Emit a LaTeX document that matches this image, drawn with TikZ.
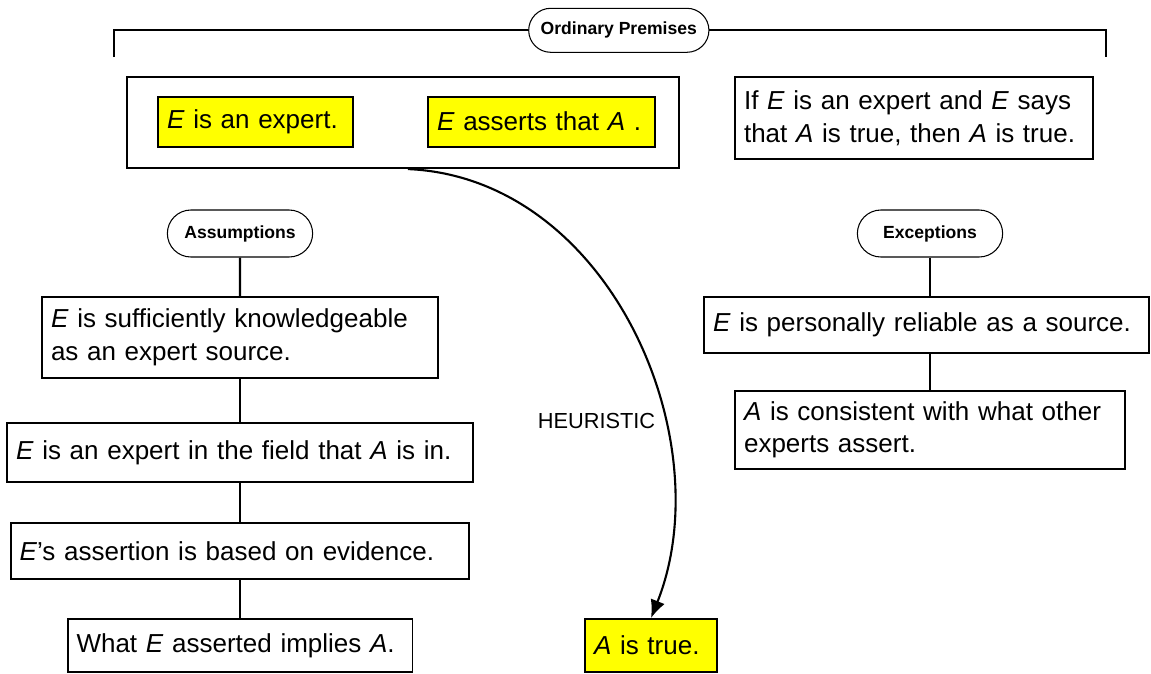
\documentclass[tikz,border=0pt]{standalone}
\usepackage{fontspec}
\setmainfont{Liberation Sans}
\usepackage{xcolor}
\definecolor{premyellow}{rgb}{1, 1, 0}
\usetikzlibrary{arrows.meta, shapes.misc}

\tikzset{
	plainbox/.style = {draw, line width = 1.1pt, inner xsep = 0.18cm, inner ysep = 0pt, align = left, font = \fontsize{14.8}{18.5}\selectfont},
	yellowbox/.style = {plainbox, fill = premyellow},
	tag/.style = {draw, rounded rectangle, line width = 0.6pt, minimum width = 3.14cm, minimum height = 0.94cm, font = \fontsize{10}{12}\selectfont\bfseries},
	link/.style = {line width = 1.2pt}
}

\begin{document}
\begin{tikzpicture}[x = 0.02cm, y = -0.02cm]
			\useasboundingbox (0,0) rectangle (1151,673);
			
			% top row
			\node[tag, minimum width = 3.84cm, minimum height = 0.88cm] (ordinary) at (618.8,30.3) {Ordinary Premises};
			\node[plainbox, text width = 10.68cm, minimum height = 1.82cm] (prem) at (403,122.6) {};
			\node[yellowbox, text width = 3.54cm, minimum height = 1.0cm] (p1) at (255.5,121.7) {\textit{E} is an expert.};
			\node[yellowbox, text width = 4.18cm, minimum height = 1.0cm] (p2) at (541.5,121.7) {\textit{E} asserts that \textit{A} .};
			\node[plainbox, text width = 6.8cm, minimum height = 1.64cm] (rule) at (914,118) {If \textit{E} is an expert and \textit{E} says\\that \textit{A} is true, then \textit{A} is true.};
			
			\coordinate (bl) at (114,57);
			\coordinate (br) at (1106,57);
			\draw[link] (bl) |- (ordinary.west);
			\draw[link] (ordinary.east) -| (br);
			
			% assumptions
			\node[tag] (assum) at (240,233.5) {Assumptions};
			\node[plainbox, text width = 7.56cm, minimum height = 1.62cm] (a1) at (240,337.3) {\textit{E} is sufficiently knowledgeable\\as an expert source.};
			\node[plainbox, text width = 8.96cm, minimum height = 1.18cm] (a2) at (240,452.5) {\textit{E} is an expert in the field that \textit{A} is in.};
			\node[plainbox, text width = 8.82cm, minimum height = 1.12cm] (a3) at (240,551) {\textit{E}'s assertion is based on evidence.};
			\node[plainbox, text width = 6.54cm, minimum height = 1.06cm] (a4) at (240,645.5) {What \textit{E} asserted implies \textit{A}.};
			
			\draw[link] (assum) -- (a1);
			\draw[link] (a1) -- (a2);
			\draw[link] (a2) -- (a3);
			\draw[link] (a3) -- (a4);
			
			% exceptions
			\node[tag] (excep) at (930,233.5) {Exceptions};
			\node[plainbox, text width = 8.54cm, minimum height = 1.12cm] (e1) at (926.5,325) {\textit{E} is personally reliable as a source.};
			\node[plainbox, text width = 7.44cm, minimum height = 1.56cm] (e2) at (930,430) {\textit{A} is consistent with what other\\experts assert.};
			
			\draw[link] (excep.south) -- (excep.south |- e1.north);
			\draw[link] (excep.south |- e1.south) -- (e2.north);
			
			% conclusion
			\node[yellowbox, text width = 2.28cm, minimum height = 1.06cm] (concl) at (651,645.5) {\textit{A} is true.};
			\node[font = \fontsize{12.4}{14}\selectfont] (heur) at (596.5,420.5) {HEURISTIC};
			
			\draw[link, -{Latex[length = 0.36cm, width = 0.3cm]}] ([xshift = 0.1cm]prem.south) .. controls (610,178) and (722,440) .. (concl.north);
			
\end{tikzpicture}
\end{document}
